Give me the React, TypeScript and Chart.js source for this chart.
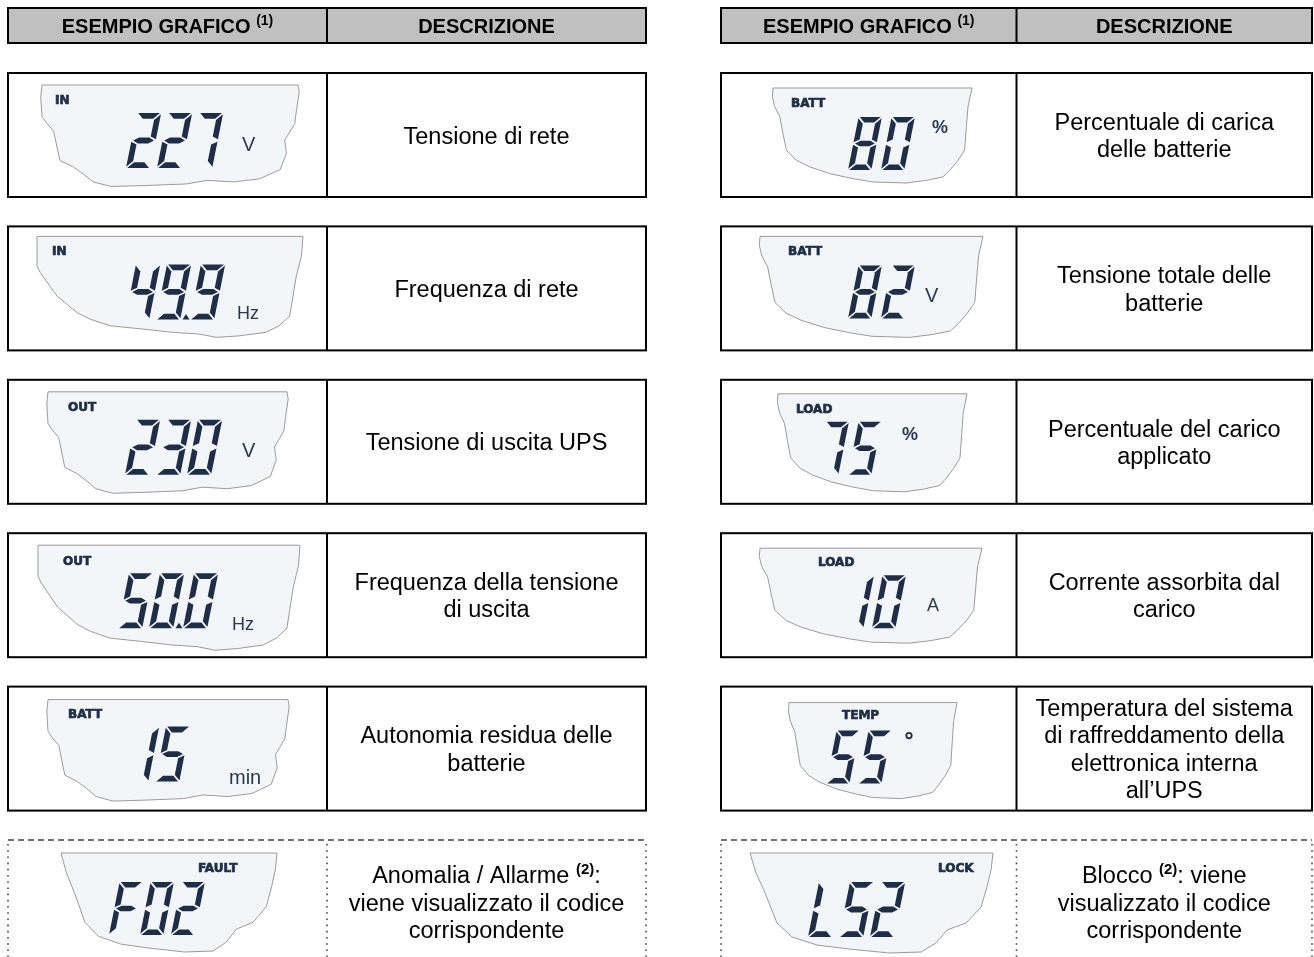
import React, { useEffect, useRef } from "react";
import { Chart, registerables } from "chart.js";

Chart.register(...registerables);

// ---------- data ----------
const tableHeaders = ["ESEMPIO GRAFICO ^(1)^", "DESCRIZIONE"];
const tableSlots = [0, 1];
const rowSlots = [0, 1, 2, 3, 4, 5];

const leftIndicators = ["IN", "IN", "OUT", "OUT", "BATT", "FAULT"];
const leftReadings = ["227", "49.9", "230", "50.0", "15", "F02"];
const leftUnits = ["V", "Hz", "V", "Hz", "min", ""];
const leftDescriptions = [
  ["Tensione di rete"],
  ["Frequenza di rete"],
  ["Tensione di uscita UPS"],
  ["Frequenza della tensione", "di uscita"],
  ["Autonomia residua delle", "batterie"],
  ["Anomalia / Allarme ^(2)^:", "viene visualizzato il codice", "corrispondente"],
];

const rightIndicators = ["BATT", "BATT", "LOAD", "LOAD", "TEMP", "LOCK"];
const rightReadings = ["80", "82", "75", "10", "55", "L52"];
const rightUnits = ["%", "V", "%", "A", "°", ""];
const rightDescriptions = [
  ["Percentuale di carica", "delle batterie"],
  ["Tensione totale delle", "batterie"],
  ["Percentuale del carico", "applicato"],
  ["Corrente assorbita dal", "carico"],
  ["Temperatura del sistema", "di raffreddamento della", "elettronica interna", "all\u2019UPS"],
  ["Blocco ^(2)^: viene", "visualizzato il codice", "corrispondente"],
];

const dashedRows = [5];

// ---------- layout / style ----------
const W = 1314;
const H = 957;
const TABLE_WIDTHS = [638, 591];
const ROW_H = 124;
const HEADER_TOP = 8;
const HEADER_H = 35;
const X_MIN = -8 / 713;
const X_MAX = (W - 8) / 713;
const PITCH_Y = 153.4;
const Y_MIN = -73 / PITCH_Y;
const Y_MAX = (H - 73) / PITCH_Y;

const NAVY = "#1f2e46";
const LCD_FILL = "#f3f6f9";
const LCD_EDGE = "#9a9a9a";
const HEADER_FILL = "#c0c0c0";
const SANS = "'Liberation Sans', Arial, Helvetica, sans-serif";
const DESC_SIZE = 23.5;
const DESC_LH = 27.5;

type Panel = {
  lcd: number[];
  shape: string;
  lab: number[];
  dig: number[];
  unit: number[] | null;
  unitBold?: boolean;
};

const leftLayout: Panel[] = [
  { lcd: [34, 12, 290, 114], shape: "wideA", lab: [47, 31], dig: [118, 40, 55, 31], unit: [234, 78, 20] },
  { lcd: [29, 10, 295, 111], shape: "wideB", lab: [44, 29], dig: [117, 38, 55, 31], unit: [229, 93, 18] },
  { lcd: [40, 12, 279, 114], shape: "wideA", lab: [60, 31], dig: [117, 40, 55, 31], unit: [234, 77, 20] },
  { lcd: [30, 12, 292, 117], shape: "wideB", lab: [55, 32], dig: [110, 40, 55, 31], unit: [224, 97, 18] },
  { lcd: [40, 13, 280, 115], shape: "wideA", lab: [60, 31], dig: [116, 40, 55, 31], unit: [221, 97, 20] },
  { lcd: [53, 13, 269, 112], shape: "cup", lab: [190, 32], dig: [101, 42, 53, 31], unit: null },
];

const rightLayout: Panel[] = [
  { lcd: [52, 15, 251, 110], shape: "narrow", lab: [70, 34], dig: [127, 44, 53, 33], unit: [211, 60, 18], unitBold: true },
  { lcd: [39, 10, 262, 111], shape: "narrow", lab: [67, 29], dig: [127, 39, 53, 33], unit: [204, 76, 20] },
  { lcd: [57, 14, 246, 112], shape: "narrow", lab: [75, 33], dig: [94, 42, 53, 33], unit: [181, 60, 18], unitBold: true },
  { lcd: [39, 15, 261, 110], shape: "narrow", lab: [97, 33], dig: [119, 42, 53, 32], unit: [206, 78, 18] },
  { lcd: [68, 16, 236, 112], shape: "narrow", lab: [121, 32], dig: [105, 44, 53, 32], unit: [188, 49, 0] },
  { lcd: [29, 13, 272, 113], shape: "cup", lab: [217, 32], dig: [87, 42, 55, 31], unit: null },
];

const SHAPES: Record<string, number[][]> = {
  wideA: [
    [0, 0], [1, 0], [1.005, 0.07], [0.994, 0.25], [0.987, 0.38], [0.968, 0.46], [0.948, 0.54],
    [0.955, 0.67], [0.93, 0.83], [0.85, 0.92], [0.75, 0.95], [0.645, 0.935], [0.565, 0.97],
    [0.41, 0.985], [0.27, 0.995], [0.2, 0.95], [0.16, 0.87], [0.12, 0.8], [0.07, 0.74],
    [0.058, 0.6], [0.045, 0.45], [0.02, 0.38], [0, 0.31], [-0.005, 0.12],
  ],
  wideB: [
    [0, 0], [1, 0], [0.994, 0.2], [0.975, 0.39], [0.9625, 0.59], [0.95, 0.79], [0.91, 0.885],
    [0.86, 0.95], [0.76, 0.985], [0.675, 1.0], [0.61, 0.967], [0.51, 0.95], [0.4, 0.918],
    [0.275, 0.885], [0.2, 0.82], [0.15, 0.754], [0.075, 0.59], [0.0125, 0.36], [0, 0.295],
  ],
  narrow: [
    [0, 0], [1, 0], [0.98, 0.194], [0.972, 0.406], [0.963, 0.654], [0.93, 0.76], [0.888, 0.866],
    [0.854, 0.936], [0.771, 0.972], [0.67, 1.0], [0.502, 0.989], [0.402, 0.954], [0.285, 0.901],
    [0.184, 0.83], [0.117, 0.76], [0.067, 0.654], [0.05, 0.477], [0.034, 0.3], [0.008, 0.194],
    [-0.003, 0.088],
  ],
  cup: [
    [0, 0], [1, 0], [0.992, 0.17], [0.975, 0.34], [0.951, 0.54], [0.889, 0.7], [0.811, 0.77],
    [0.765, 0.9], [0.704, 0.99], [0.572, 1.0], [0.407, 0.96], [0.276, 0.92], [0.173, 0.84],
    [0.111, 0.7], [0.062, 0.4], [0.025, 0.2],
  ],
};

const SEGMENTS: Record<string, string> = {
  "0": "abcdef", "1": "bc", "2": "abged", "3": "abgcd", "4": "fgbc", "5": "afgcd",
  "6": "afgedc", "7": "abc", "8": "abcdefg", "9": "abcdfg", F: "aefg", L: "def",
};

// mitred seven-segment shapes (unslanted), w x h box, stroke t
function segPoly(seg: string, w: number, h: number, t: number): number[][] {
  const G = 1.2;
  const M = h / 2;
  switch (seg) {
    case "a": return [[G, 0], [w - G, 0], [w - t - G, t], [t + G, t]];
    case "d": return [[t + G, h - t], [w - t - G, h - t], [w - G, h], [G, h]];
    case "g": return [[G + 0.5, M], [t + G, M - t / 2], [w - t - G, M - t / 2], [w - G - 0.5, M], [w - t - G, M + t / 2], [t + G, M + t / 2]];
    case "f": return [[0, G], [t, t + G], [t, M - t / 2 - G], [0, M - G]];
    case "e": return [[0, M + G], [t, M + t / 2 + G], [t, h - t - G], [0, h - G]];
    case "b": return [[w, G], [w, M - G], [w - t, M - t / 2 - G], [w - t, t + G]];
    default: return [[w, M + G], [w, h - G], [w - t, h - t - G], [w - t, M + t / 2 + G]];
  }
}

function drawDigits(ctx: CanvasRenderingContext2D, str: string, X: number, top: number, h: number, pitch: number) {
  const w = h * 0.44;
  const t = h * 0.105;
  const s = 0.2;
  let x = X;
  ctx.fillStyle = NAVY;
  for (const ch of str) {
    if (ch === ".") {
      ctx.beginPath();
      ctx.moveTo(x - 4.5, top + h);
      ctx.lineTo(x + 2.5, top + h);
      ctx.lineTo(x - 1, top + h - 5.5);
      ctx.closePath();
      ctx.fill();
      x += 3;
      continue;
    }
    const segs = SEGMENTS[ch] || "";
    for (const sg of segs) {
      const poly = segPoly(sg, w, h, t);
      ctx.beginPath();
      poly.forEach(([px, py], i) => {
        const xx = x + px + s * (h - py);
        const yy = top + py;
        if (i === 0) ctx.moveTo(xx, yy);
        else ctx.lineTo(xx, yy);
      });
      ctx.closePath();
      ctx.fill();
    }
    x += pitch;
  }
}

function drawRich(ctx: CanvasRenderingContext2D, text: string, cx: number, base: number, size: number, bold: boolean, supSize: number, supRise: number) {
  const parts = text.split("^");
  const fontFor = (i: number) => `${bold || i % 2 === 1 ? "bold " : ""}${i % 2 === 1 ? supSize : size}px ${SANS}`;
  const widths = parts.map((p, i) => {
    ctx.font = fontFor(i);
    return ctx.measureText(p).width;
  });
  const total = widths.reduce((a, b) => a + b, 0);
  let x = cx - total / 2;
  ctx.textAlign = "left";
  ctx.textBaseline = "alphabetic";
  parts.forEach((p, i) => {
    ctx.font = fontFor(i);
    ctx.fillText(p, x, i % 2 === 1 ? base - supRise : base);
    x += widths[i];
  });
}

const tablePlugin = {
  id: "lcdTable",
  afterDraw(chart: any) {
    const ctx: CanvasRenderingContext2D = chart.ctx;
    ctx.save();
    tableSlots.forEach((_, ti) => {
      const meta = chart.getDatasetMeta(ti);
      const tw = TABLE_WIDTHS[ti];
      const half = tw / 2;
      const indicators = ti === 0 ? leftIndicators : rightIndicators;
      const readings = ti === 0 ? leftReadings : rightReadings;
      const units = ti === 0 ? leftUnits : rightUnits;
      const descs = ti === 0 ? leftDescriptions : rightDescriptions;
      const layout = ti === 0 ? leftLayout : rightLayout;
      const x0 = meta.data[0].x;

      // header
      ctx.fillStyle = HEADER_FILL;
      ctx.fillRect(x0, HEADER_TOP, tw, HEADER_H);
      ctx.strokeStyle = "#000";
      ctx.lineWidth = 2;
      ctx.setLineDash([]);
      ctx.strokeRect(x0, HEADER_TOP, tw, HEADER_H);
      ctx.beginPath();
      ctx.moveTo(x0 + half, HEADER_TOP);
      ctx.lineTo(x0 + half, HEADER_TOP + HEADER_H);
      ctx.stroke();
      ctx.fillStyle = "#000";
      drawRich(ctx, tableHeaders[0], x0 + half / 2, HEADER_TOP + 25, 20, true, 14, 8);
      drawRich(ctx, tableHeaders[1], x0 + half + half / 2, HEADER_TOP + 25, 20, true, 14, 8);

      meta.data.forEach((el: any, r: number) => {
        const T = el.y;
        const lay = layout[r];
        const dashed = dashedRows.includes(r);
        // borders
        ctx.strokeStyle = "#000";
        ctx.lineWidth = 2;
        if (!dashed) {
          ctx.setLineDash([]);
          ctx.strokeRect(x0, T, tw, ROW_H);
          ctx.beginPath();
          ctx.moveTo(x0 + half, T);
          ctx.lineTo(x0 + half, T + ROW_H);
          ctx.stroke();
        } else {
          ctx.strokeStyle = "#444";
          ctx.lineWidth = 1.3;
          ctx.setLineDash([6, 4]);
          ctx.beginPath();
          ctx.moveTo(x0, T);
          ctx.lineTo(x0 + tw, T);
          ctx.stroke();
          ctx.lineWidth = 1.6;
          ctx.setLineDash([1.6, 4.6]);
          [0, half, tw].forEach((dx) => {
            ctx.beginPath();
            ctx.moveTo(x0 + dx, T + 4);
            ctx.lineTo(x0 + dx, T + ROW_H + 20);
            ctx.stroke();
          });
          ctx.setLineDash([]);
        }

        // LCD shape
        const [lx0, ly0, lx1, ly1] = lay.lcd;
        const bw = lx1 - lx0, bh = ly1 - ly0;
        const pts = SHAPES[lay.shape];
        ctx.beginPath();
        pts.forEach(([u, v], i) => {
          const px = x0 + lx0 + u * bw;
          const py = T + ly0 + v * bh;
          if (i === 0) ctx.moveTo(px, py);
          else ctx.lineTo(px, py);
        });
        ctx.closePath();
        ctx.fillStyle = LCD_FILL;
        ctx.fill();
        ctx.strokeStyle = LCD_EDGE;
        ctx.lineWidth = 1;
        ctx.stroke();

        // indicator label
        ctx.fillStyle = NAVY;
        ctx.strokeStyle = NAVY;
        ctx.lineWidth = 0.7;
        ctx.font = "bold 12px 'DejaVu Sans', sans-serif";
        ctx.textAlign = "left";
        ctx.textBaseline = "alphabetic";
        ctx.fillText(indicators[r], x0 + lay.lab[0], T + lay.lab[1]);
        ctx.strokeText(indicators[r], x0 + lay.lab[0], T + lay.lab[1]);

        // reading
        const [dx, dt, dh, dp] = lay.dig;
        drawDigits(ctx, readings[r], x0 + dx, T + dt, dh, dp);

        // unit
        if (lay.unit && units[r]) {
          const [ux, uy, us] = lay.unit;
          if (units[r] === "°") {
            ctx.beginPath();
            ctx.arc(x0 + ux, T + uy, 2.7, 0, Math.PI * 2);
            ctx.strokeStyle = NAVY;
            ctx.lineWidth = 1.8;
            ctx.stroke();
          } else {
            ctx.fillStyle = "#2a3950";
            ctx.font = `${lay.unitBold ? "bold " : ""}${us}px ${SANS}`;
            ctx.fillText(units[r], x0 + ux, T + uy);
          }
        }

        // description
        ctx.fillStyle = "#000";
        const lines = descs[r];
        const cy = T + ROW_H / 2;
        lines.forEach((ln, i) => {
          const base = cy - ((lines.length - 1) * DESC_LH) / 2 + i * DESC_LH + 8.5;
          drawRich(ctx, ln, x0 + half + half / 2, base, DESC_SIZE, false, 15, 9);
        });
      });
    });
    ctx.restore();
  },
};

export default function App() {
  const ref = useRef<HTMLCanvasElement | null>(null);
  useEffect(() => {
    if (!ref.current) return;
    const chart = new Chart(ref.current, {
      type: "scatter",
      data: {
        datasets: tableSlots.map((tx, ti) => ({
          label: ti === 0 ? "left" : "right",
          data: rowSlots.map((r) => ({ x: tx, y: r })),
          pointRadius: 0,
          pointHoverRadius: 0,
          showLine: false,
        })),
      },
      options: {
        animation: false,
        responsive: false,
        maintainAspectRatio: false,
        devicePixelRatio: 1,
        events: [],
        layout: { padding: 0 },
        plugins: {
          legend: { display: false },
          tooltip: { enabled: false },
          title: { display: false },
        },
        scales: {
          x: { type: "linear", display: false, min: X_MIN, max: X_MAX },
          y: { type: "linear", display: false, reverse: true, min: Y_MIN, max: Y_MAX },
        },
      },
      plugins: [tablePlugin],
    } as any);
    let alive = true;
    if ((document as any).fonts && (document as any).fonts.ready) {
      (document as any).fonts.ready.then(() => {
        if (alive) chart.draw();
      });
    }
    return () => {
      alive = false;
      chart.destroy();
    };
  }, []);
  return (
    <div style={{ position: "fixed", left: 0, top: 0, width: W, height: H, background: "#fff" }}>
      <canvas ref={ref} width={W} height={H} style={{ width: W, height: H, display: "block" }} />
    </div>
  );
}
